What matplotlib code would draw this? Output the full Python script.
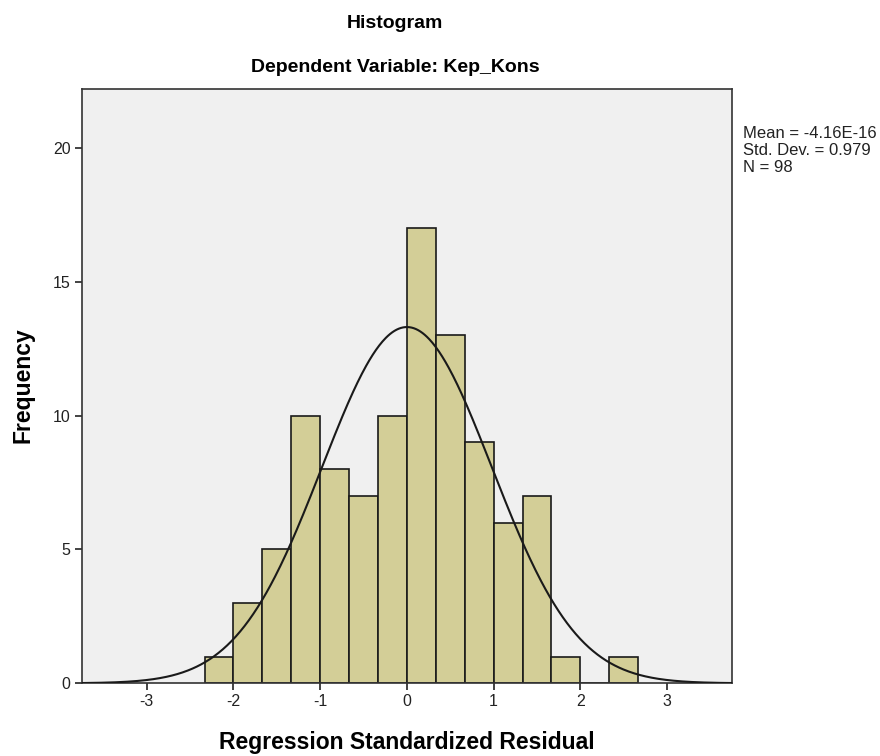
import numpy as np
import matplotlib
matplotlib.use("Agg")
import matplotlib.pyplot as plt

# Data
bin_edges = [-2.3333, -2.0, -1.6667, -1.3333, -1.0, -0.6667, -0.3333, 0.0,
             0.3333, 0.6667, 1.0, 1.3333, 1.6667, 2.0, 2.3333, 2.6667]
counts = [1, 3, 5, 10, 8, 7, 10, 17, 13, 9, 6, 7, 1, 0, 1]
mean = -4.16e-16
std = 0.979
n = 98
x_ticks = [-3, -2, -1, 0, 1, 2, 3]
y_ticks = [0, 5, 10, 15, 20]

plt.rcParams['font.family'] = ['Liberation Sans', 'DejaVu Sans']

fig = plt.figure(figsize=(8.8, 7.56), dpi=100)
ax = fig.add_axes([0.0928, 0.0962, 0.7392, 0.7858])
ax.set_facecolor('#F0F0F0')

edges = np.array(bin_edges)
widths = np.diff(edges)
ax.bar(edges[:-1], counts, width=widths, align='edge', color='#D3CE97',
       edgecolor='#1a1a1a', linewidth=1.2, zorder=2)

bw = widths.mean()
xs = np.linspace(-3.75, 3.75, 600)
ys = n * bw / (std * np.sqrt(2 * np.pi)) * np.exp(-0.5 * ((xs - mean) / std) ** 2)
ax.plot(xs, ys, color='#1a1a1a', linewidth=1.5, zorder=3)

ax.set_xlim(-3.75, 3.75)
ax.set_ylim(0, 22.2)
ax.set_xticks(x_ticks)
ax.set_yticks(y_ticks)
ax.set_xticklabels([str(t) for t in x_ticks], fontsize=11.5, color='#222222')
ax.set_yticklabels([str(t) for t in y_ticks], fontsize=11.5, color='#222222')
ax.tick_params(direction='out', length=5, width=1.2, colors='#222222', pad=3)
for s in ax.spines.values():
    s.set_linewidth(1.2)
    s.set_color('#333333')

ax.set_xlabel('Regression Standardized Residual', fontsize=16.5, fontweight='bold',
              va='center')
ax.xaxis.set_label_coords(0.5, -0.1005)
ax.set_ylabel('Frequency', fontsize=16.5, fontweight='bold', va='center')
ax.yaxis.set_label_coords(-0.09, 0.502)

fig.text(0.449, 1 - 23 / 756, 'Histogram', fontsize=14, fontweight='bold',
         ha='center', va='center')
fig.text(0.449, 1 - 68 / 756, 'Dependent Variable: Kep_Kons', fontsize=14,
         fontweight='bold', ha='center', va='center')

fig.text(743 / 880, 1 - 126 / 756,
         'Mean = -4.16E-16\nStd. Dev. = 0.979\nN = 98',
         fontsize=12, ha='left', va='top', linespacing=1.15, color='#222222')

fig.savefig('out.png', dpi=100)
